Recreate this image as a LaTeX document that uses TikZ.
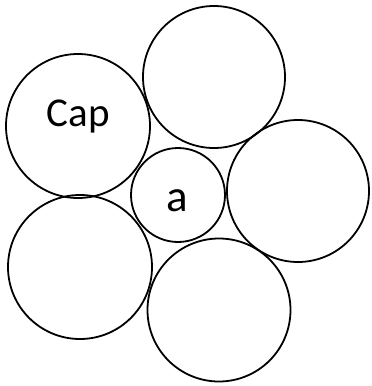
\documentclass[tikz,border=0pt]{standalone}
\usepackage{fontspec}
\setmainfont{Carlito}
\begin{document}
\begin{tikzpicture}[x=1pt,y=-1pt,
  ball/.style={circle,draw=black,line width=1.8pt,inner sep=0pt},
  lbl/.style={anchor=base,inner sep=0pt}]
\useasboundingbox (0,0) rectangle (372,386);
\node[ball,minimum size=142pt] (top) at (214,77) {};
\node[ball,minimum size=144pt] (cap) at (78,126) {};
\node[ball,minimum size=94pt] (a) at (178,195) {};
\node[ball,minimum size=142pt] (right) at (298,191) {};
\node[ball,minimum size=144pt] (bl) at (80,267) {};
\node[ball,minimum size=143pt] (bot) at (219,310) {};
\node[lbl,font=\fontsize{41}{48}\selectfont] (captext) at (78.5,126) {Cap};
\node[lbl,font=\fontsize{45}{52}\selectfont] (atext) at (177.5,211) {a};
\end{tikzpicture}
\end{document}
